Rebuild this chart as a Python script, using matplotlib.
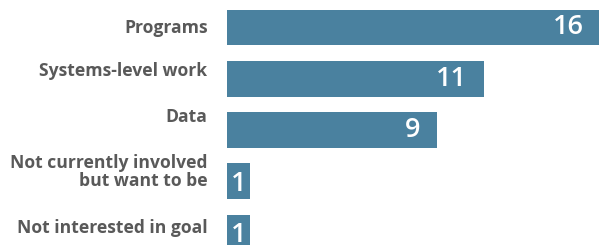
import matplotlib.pyplot as plt

labels = ['Programs', 'Systems-level work', 'Data',
          'Not currently involved\nbut want to be', 'Not interested in goal']
values = [16, 11, 9, 1, 1]
# vertical nudge of each label, in points (positive = up)
label_shift = [-0.5, 5.5, 9.5, 7, 3.5]

bar_color = '#4a819f'
text_color = '#595959'

plt.rcParams['font.family'] = ['Open Sans', 'DejaVu Sans']

fig = plt.figure(figsize=(5.99, 2.45), dpi=100)
ax = fig.add_axes([0, 0, 1, 1])

y = list(range(len(values)))
ax.barh(y, values, height=0.70, color=bar_color)

px_per_unit = 23.35
ax.set_xlim(-227 / px_per_unit, 372 / px_per_unit)
ax.set_ylim((245 - 27.5) / 51.25, -27.5 / 51.25)
ax.axis('off')

for i, (lab, v) in enumerate(zip(labels, values)):
    ax.annotate(lab, (0, i), xytext=(-14, label_shift[i]), textcoords='offset points',
                ha='right', va='center', fontsize=12.6, fontweight='bold',
                color=text_color, linespacing=1.0)
    if v * px_per_unit < 40:
        ax.text(v / 2, i + 0.05, str(v), ha='center', va='center',
                fontsize=19.5, fontweight='semibold', color='white')
    else:
        ax.annotate(str(v), (v, i), xytext=(-12, 0), textcoords='offset points',
                    ha='right', va='center', fontsize=19.5, fontweight='semibold',
                    color='white', annotation_clip=False)

fig.savefig('out.png', dpi=100)
